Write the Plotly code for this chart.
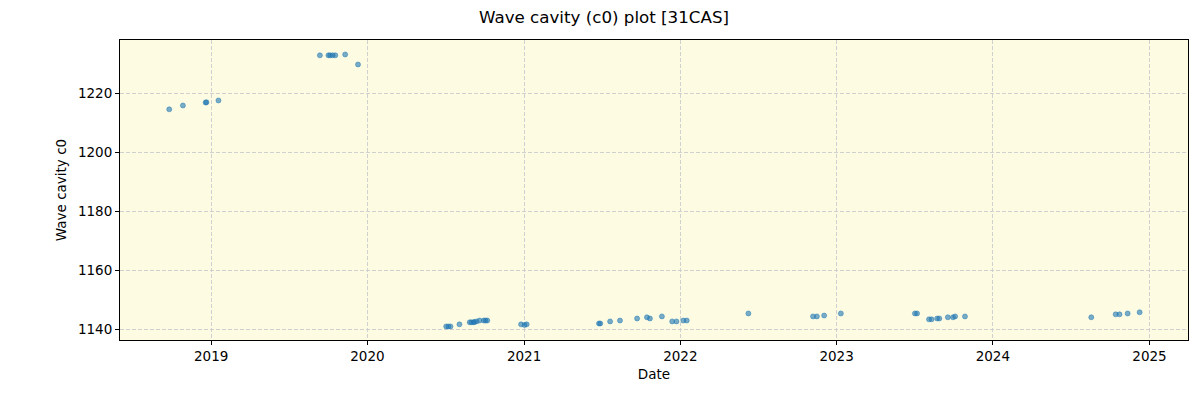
import plotly.graph_objects as go

dates = [
    "2018-09-25", "2018-10-27", "2018-12-19", "2018-12-21", "2019-01-18",
    "2019-09-12", "2019-10-02", "2019-10-06", "2019-10-12", "2019-10-18",
    "2019-11-10", "2019-12-10",
    "2020-07-03", "2020-07-08", "2020-07-13", "2020-08-03", "2020-08-27",
    "2020-08-31", "2020-09-05", "2020-09-07", "2020-09-12", "2020-09-19",
    "2020-09-29", "2020-10-03", "2020-10-07", "2020-12-25", "2021-01-02",
    "2021-01-07",
    "2021-06-25", "2021-06-28", "2021-07-21", "2021-08-13", "2021-09-22",
    "2021-10-15", "2021-10-22", "2021-11-19", "2021-12-13", "2021-12-23",
    "2022-01-08", "2022-01-16", "2022-06-09", "2022-11-07", "2022-11-16",
    "2022-12-03",
    "2023-01-11", "2023-07-03", "2023-07-08", "2023-08-05", "2023-08-11",
    "2023-08-24", "2023-08-29", "2023-09-18", "2023-09-30", "2023-10-05",
    "2023-10-28",
    "2024-08-18", "2024-10-14", "2024-10-23", "2024-11-11", "2024-12-09",
]
c0 = [
    1214.5, 1215.8, 1216.8, 1216.9, 1217.5,
    1232.8, 1232.8, 1232.8, 1232.8, 1232.8,
    1233.1, 1229.7,
    1140.9, 1140.9, 1140.9, 1141.6, 1142.3,
    1142.3, 1142.3, 1142.4, 1142.6, 1142.9,
    1142.9, 1142.9, 1142.9, 1141.6, 1141.4,
    1141.6,
    1141.9, 1141.9, 1142.6, 1142.9, 1143.6,
    1144.0, 1143.6, 1144.3, 1142.6, 1142.6,
    1142.9, 1142.9, 1145.3, 1144.3, 1144.3,
    1144.6,
    1145.3, 1145.3, 1145.3, 1143.3, 1143.3,
    1143.6, 1143.6, 1144.0, 1144.0, 1144.3,
    1144.3,
    1144.0, 1145.0, 1145.0, 1145.3, 1145.7,
]

title_text = "Wave cavity (c0) plot [31CAS]"
x_label = "Date"
y_label = "Wave cavity c0"
x_ticks = ["2019-01-01", "2020-01-01", "2021-01-01", "2022-01-01",
           "2023-01-01", "2024-01-01", "2025-01-01"]
x_tick_labels = ["2019", "2020", "2021", "2022", "2023", "2024", "2025"]
y_ticks = [1140, 1160, 1180, 1200, 1220]

fig = go.Figure()
fig.add_trace(go.Scatter(
    x=dates, y=c0, mode="markers",
    marker=dict(size=5, color="rgba(31,119,180,0.6)",
                line=dict(width=0.8, color="rgba(31,119,180,0.6)")),
    showlegend=False,
))

tick_font = dict(family="DejaVu Sans", size=13.5, color="black")
axis_common = dict(
    showline=True, linecolor="black", linewidth=1, mirror=True,
    ticks="outside", ticklen=4, tickcolor="black",
    showgrid=True, gridcolor="#d0d0d0", griddash="4px,2px", gridwidth=1,
    zeroline=False, tickfont=tick_font,
)
fig.update_layout(
    width=1192, height=392,
    margin=dict(l=112, r=12, t=32, b=60),
    paper_bgcolor="white",
    plot_bgcolor="#fdfce2",
    font=dict(family="DejaVu Sans", size=13.5, color="black"),
    title=dict(text=title_text, x=0.5, xanchor="center",
               y=1 - 9 / 392, yanchor="middle",
               font=dict(family="DejaVu Sans", size=16.7, color="black")),
    xaxis=dict(range=["2018-06-02", "2025-04-01"], tickvals=x_ticks,
               ticktext=x_tick_labels,
               title=dict(text=x_label, standoff=6, font=tick_font),
               **axis_common),
    yaxis=dict(range=[1136.3, 1238.0], tickvals=y_ticks,
               title=dict(text=y_label, standoff=8, font=tick_font),
               **axis_common),
)

fig.write_html("out.html")
